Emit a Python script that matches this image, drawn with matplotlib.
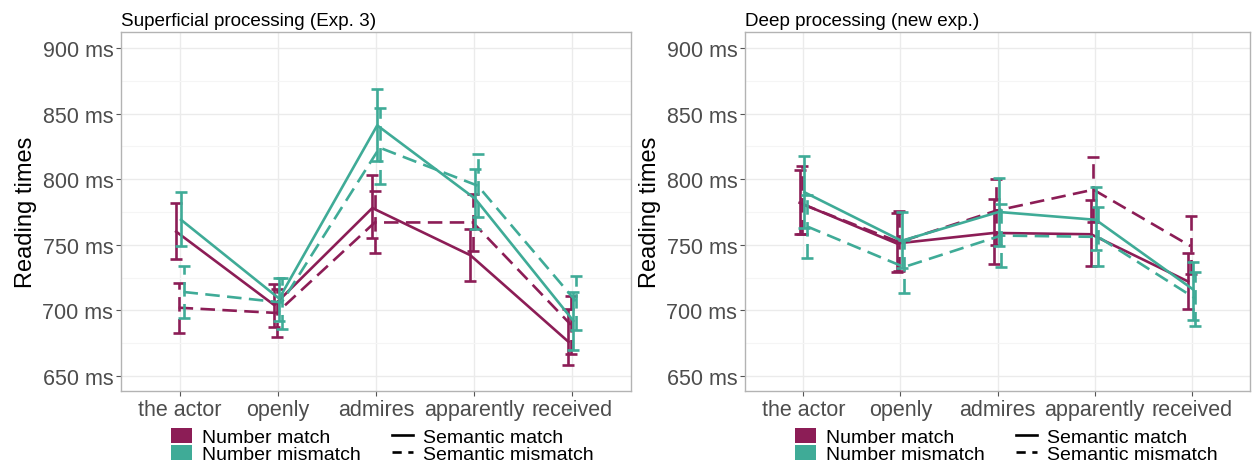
import numpy as np
import matplotlib.pyplot as plt
from matplotlib.lines import Line2D
from matplotlib.patches import Patch

plt.rcParams['font.family'] = ['Liberation Sans', 'DejaVu Sans']

# categories (regions of the sentence)
regions = ["the actor", "openly", "admires", "apparently", "received"]
titles = ["Superficial processing (Exp. 3)", "Deep processing (new exp.)"]

# Superficial processing (Exp. 3): mean, lower, upper per condition
sup_nm_sm = [760, 704, 778, 742, 676]
sup_nm_sm_lo = [739, 687, 755, 722, 658]
sup_nm_sm_hi = [782, 720, 803, 762, 701]
sup_nm_smm = [702, 698, 767, 767, 689]
sup_nm_smm_lo = [683, 680, 744, 745, 667]
sup_nm_smm_hi = [721, 716, 791, 789, 711]
sup_nmm_sm = [769, 709, 841, 785, 692]
sup_nmm_sm_lo = [749, 692, 814, 762, 670]
sup_nmm_sm_hi = [790, 725, 869, 808, 714]
sup_nmm_smm = [714, 706, 824, 795, 707]
sup_nmm_smm_lo = [694, 686, 796, 771, 685]
sup_nmm_smm_hi = [734, 725, 854, 819, 726]

# Deep processing (new exp.)
deep_nm_sm = [782, 751, 759, 758, 722]
deep_nm_sm_lo = [758, 729, 735, 734, 701]
deep_nm_sm_hi = [807, 774, 785, 784, 744]
deep_nm_smm = [781, 752, 776, 792, 749]
deep_nm_smm_lo = [758, 730, 750, 767, 728]
deep_nm_smm_hi = [810, 776, 800, 817, 772]
deep_nmm_sm = [790, 753, 775, 769, 716]
deep_nmm_sm_lo = [763, 732, 749, 746, 693]
deep_nmm_sm_hi = [818, 775, 801, 794, 737]
deep_nmm_smm = [764, 733, 757, 756, 709]
deep_nmm_smm_lo = [740, 713, 733, 734, 688]
deep_nmm_smm_hi = [788, 754, 781, 779, 729]

purple = "#8C1D56"
teal = "#3FAB97"
dash = (0, (5.5, 2.8))

panels = [
    [(sup_nm_sm, sup_nm_sm_lo, sup_nm_sm_hi, purple, '-'),
     (sup_nm_smm, sup_nm_smm_lo, sup_nm_smm_hi, purple, dash),
     (sup_nmm_sm, sup_nmm_sm_lo, sup_nmm_sm_hi, teal, '-'),
     (sup_nmm_smm, sup_nmm_smm_lo, sup_nmm_smm_hi, teal, dash)],
    [(deep_nm_sm, deep_nm_sm_lo, deep_nm_sm_hi, purple, '-'),
     (deep_nm_smm, deep_nm_smm_lo, deep_nm_smm_hi, purple, dash),
     (deep_nmm_sm, deep_nmm_sm_lo, deep_nmm_sm_hi, teal, '-'),
     (deep_nmm_smm, deep_nmm_smm_lo, deep_nmm_smm_hi, teal, dash)],
]
offsets = [-0.0375, -0.0125, 0.0125, 0.0375]

W, H = 1252, 464
fig = plt.figure(figsize=(W / 100, H / 100), dpi=100)
axes_px = [(121, 631), (745, 1250)]
top_px, bot_px = 33, 392

x = np.arange(1, len(regions) + 1)
for p, (x0, x1) in enumerate(axes_px):
    ax = fig.add_axes([x0 / W, 1 - bot_px / H, (x1 - x0) / W, (bot_px - top_px) / H])
    for (m, lo, hi, col, ls), off in zip(panels[p], offsets):
        m = np.array(m)
        yerr = [m - np.array(lo), np.array(hi) - m]
        ax.plot(x + off, m, color=col, ls=ls, lw=1.9, zorder=3)
        eb = ax.errorbar(x + off, m, yerr=yerr, fmt='none', ecolor=col,
                         elinewidth=1.9, capsize=4.5, capthick=1.9, zorder=3)
        for lc in eb[2]:
            lc.set_linestyle(ls)
    ax.set_xlim(0.4, 5.6)
    ax.set_ylim(638.5, 912.2)
    ax.set_xticks(x)
    ax.set_xticklabels(regions)
    ax.set_yticks([650, 700, 750, 800, 850, 900])
    ax.set_yticklabels([f"{v} ms" for v in [650, 700, 750, 800, 850, 900]])
    ax.set_yticks([675, 725, 775, 825, 875], minor=True)
    ax.grid(True, which='major', color='#EBEBEB', lw=1.0, zorder=0)
    ax.grid(True, which='minor', axis='y', color='#F5F5F5', lw=0.8, zorder=0)
    ax.tick_params(axis='both', which='major', labelsize=15.5, labelcolor='#4D4D4D',
                   color='#555555', length=3.5, width=0.8, pad=2)
    ax.tick_params(axis='y', which='minor', length=0)
    ax.tick_params(axis='x', which='minor', length=0)
    for s in ax.spines.values():
        s.set_color('#B3B3B3')
        s.set_linewidth(1.0)
    ax.set_ylabel("Reading times", fontsize=17, labelpad=4)
    ax.set_title(titles[p], loc='left', fontsize=13.6, pad=5)

    handles = [Patch(facecolor=purple, edgecolor='none'),
               Patch(facecolor=teal, edgecolor='none'),
               Line2D([], [], color='black', lw=1.9, ls='-'),
               Line2D([], [], color='black', lw=1.9, ls=(0, (3.5, 2.5)))]
    labels = ["Number match", "Number mismatch", "Semantic match", "Semantic mismatch"]
    ax.legend(handles, labels, ncol=2, loc='upper left',
              bbox_to_anchor=((x0 + 50) / W, 1 - 429 / H), bbox_transform=fig.transFigure,
              frameon=False, fontsize=14, handlelength=1.1, handleheight=0.8,
              handletextpad=0.5, labelspacing=-0.05, columnspacing=1.6,
              borderpad=0, borderaxespad=0)

fig.savefig("out.png", dpi=100)
